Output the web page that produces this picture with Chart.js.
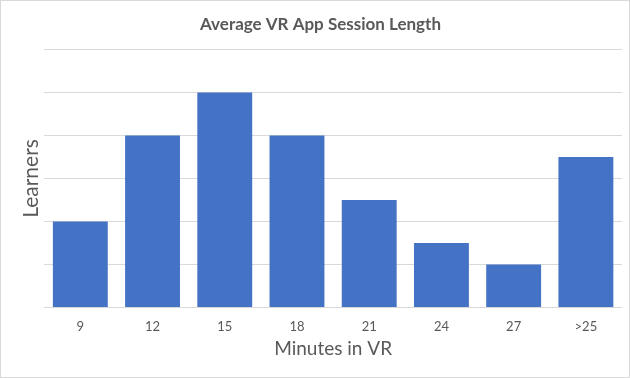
<!DOCTYPE html>
<html>
<head>
<meta charset="utf-8">
<script src="https://cdn.jsdelivr.net/npm/chart.js@4"></script>
<style>
  html, body { margin: 0; padding: 0; background: #fff; }
  #wrap { position: relative; width: 628px; height: 376px; border: 1px solid #d9d9d9; }
</style>
</head>
<body>
<div id="wrap"><canvas id="myChart" width="628" height="376"></canvas></div>
<script>
  // chart data
  const categories = ["9", "12", "15", "18", "21", "24", "27", ">25"];
  const learners = [2, 4, 5, 4, 2.5, 1.5, 1, 3.5];

  const textColor = "#595959";
  const fontFamily = "Lato, 'Open Sans', sans-serif";

  let ctx = document.getElementById("myChart");

  new Chart(ctx, {
    type: "bar",
    data: {
      labels: categories,
      datasets: [
        {
          label: "Learners",
          data: learners,
          backgroundColor: "#4472c4",
          barPercentage: 0.76,
          categoryPercentage: 1
        }
      ]
    },
    options: {
      responsive: false,
      animation: false,
      layout: { padding: { left: 18, right: 7, top: 8, bottom: 17 } },
      plugins: {
        legend: { display: false },
        tooltip: { enabled: false },
        title: {
          display: true,
          text: "Average VR App Session Length",
          color: textColor,
          font: { family: fontFamily, size: 17, weight: "bold" },
          padding: { top: 5, bottom: 15 }
        }
      },
      scales: {
        x: {
          grid: { display: false },
          border: { display: false },
          ticks: {
            color: textColor,
            font: { family: fontFamily, size: 13 },
            padding: 3
          },
          title: {
            display: true,
            text: "Minutes in VR",
            color: textColor,
            font: { family: fontFamily, size: 19 },
            padding: { top: 0, bottom: 0 }
          }
        },
        y: {
          min: 0,
          max: 6,
          ticks: { display: false, stepSize: 1 },
          grid: { color: "#d9d9d9", lineWidth: 1, drawTicks: false },
          border: { display: false },
          title: {
            display: true,
            text: "Learners",
            color: textColor,
            font: { family: fontFamily, size: 21 },
            padding: { top: 0, bottom: 0 }
          }
        }
      }
    }
  });
</script>
</body>
</html>
